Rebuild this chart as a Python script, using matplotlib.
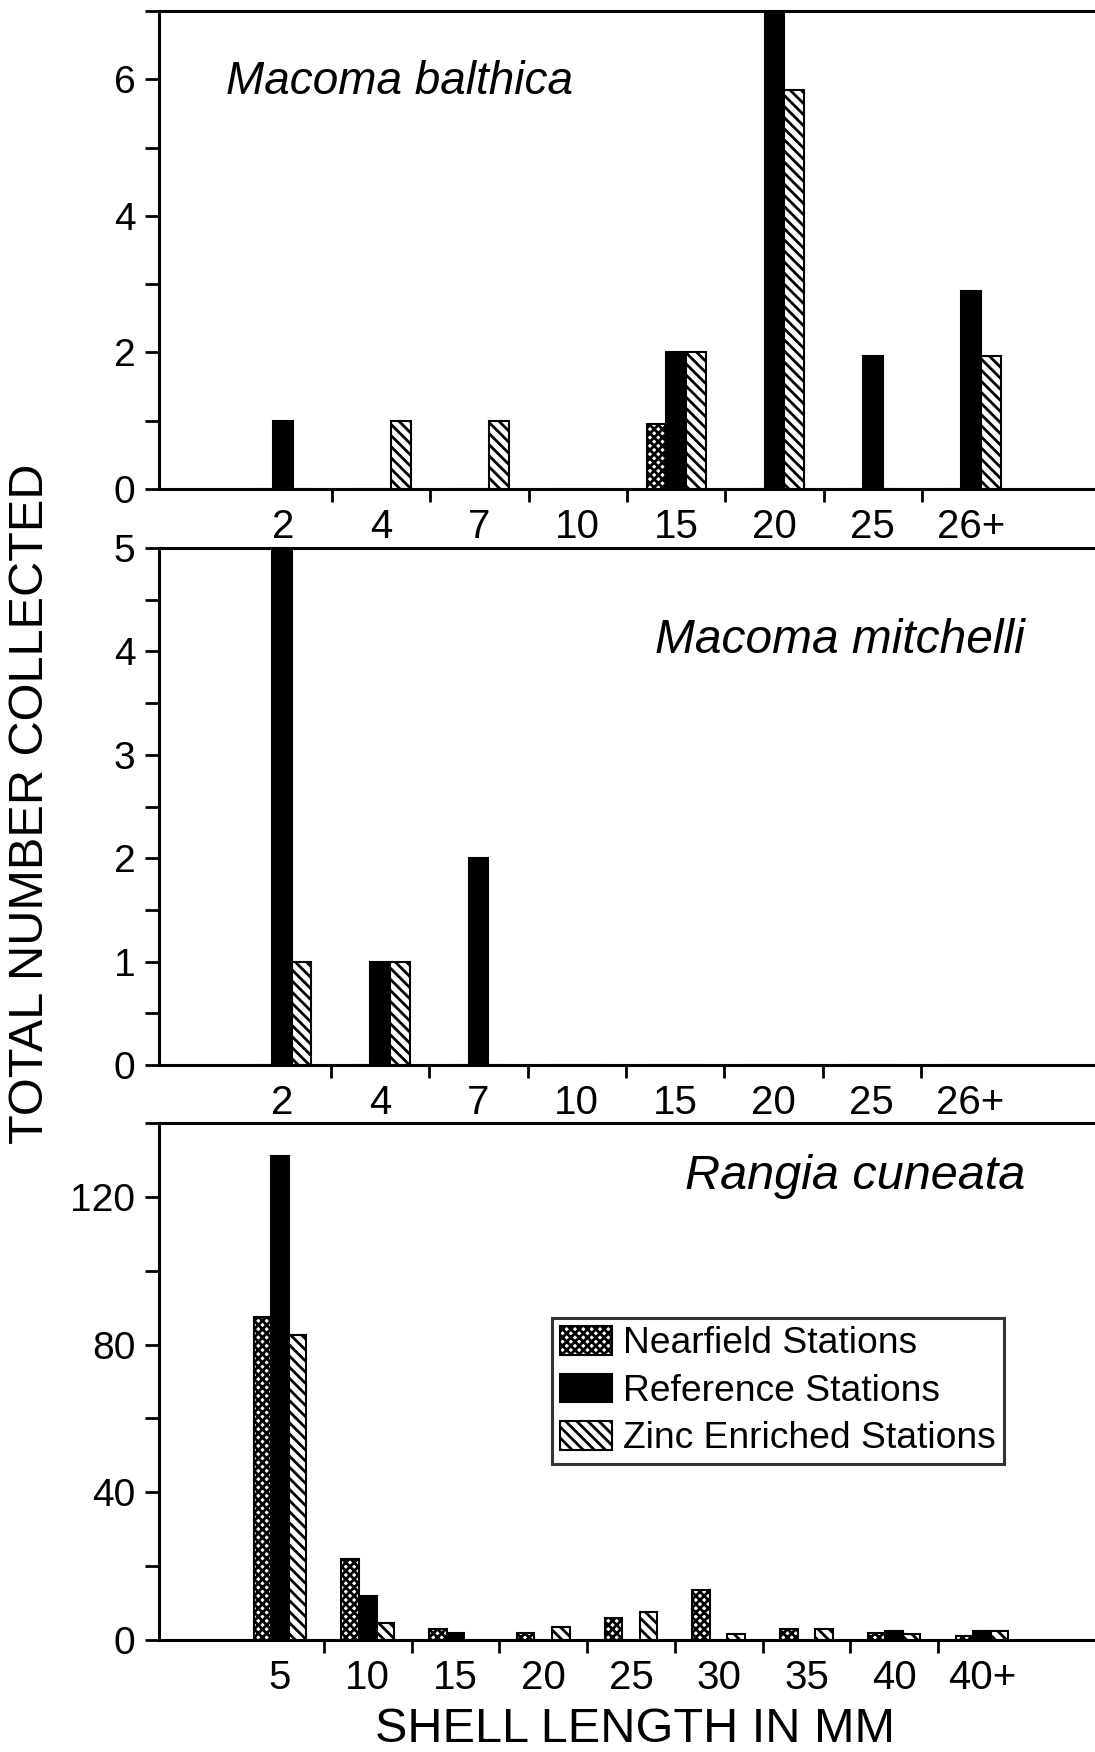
import matplotlib
matplotlib.use('Agg')
import matplotlib.pyplot as plt
from matplotlib.patches import Patch
import numpy as np

plt.rcParams['font.family'] = ['Liberation Sans', 'DejaVu Sans']
plt.rcParams['hatch.linewidth'] = 2.0
plt.rcParams['hatch.color'] = 'black'

# Macoma balthica
mb_labels = ['2', '4', '7', '10', '15', '20', '25', '26+']
mb_near = [0, 0, 0, 0, 0.95, 0, 0, 0]
mb_ref = [1, 0, 0, 0, 2, 7.3, 1.95, 2.9]
mb_zinc = [0, 1, 1, 0, 2, 5.85, 0, 1.95]

# Macoma mitchelli
mm_labels = ['2', '4', '7', '10', '15', '20', '25', '26+']
mm_near = [0, 0, 0, 0, 0, 0, 0, 0]
mm_ref = [5.3, 1, 2, 0, 0, 0, 0, 0]
mm_zinc = [1, 1, 0, 0, 0, 0, 0, 0]

# Rangia cuneata
rc_labels = ['5', '10', '15', '20', '25', '30', '35', '40', '40+']
rc_near = [87.5, 22, 3, 2, 6, 13.5, 3, 2, 1]
rc_ref = [131, 12, 2, 0, 0, 0, 0, 2.5, 2.5]
rc_zinc = [82.5, 4.5, 0, 3.5, 7.5, 1.5, 3, 1.5, 2.5]

series_names = ['Nearfield Stations', 'Reference Stations', 'Zinc Enriched Stations']
styles = [dict(facecolor='white', hatch='xxxx'),
          dict(facecolor='black', hatch=None),
          dict(facecolor='white', hatch='\\\\\\')]

W, H = 1095, 1752
fig = plt.figure(figsize=(W / 100, H / 100), dpi=100)


def make_axes(top_px, bottom_px):
    left = 159 / W
    return fig.add_axes([left, 1 - bottom_px / H, 1.0 - left, (bottom_px - top_px) / H])


def draw_panel(ax, labels, near, ref, zinc, xlim, ylim, major, minor, title, tsize, tx, ty, ha):
    x = np.arange(len(labels))
    bw = 0.2
    for off, vals, st in zip([-bw, 0, bw], [near, ref, zinc], styles):
        ax.bar(x + off, vals, width=bw, edgecolor='black', linewidth=1.5, **st)
    ax.set_xlim(*xlim)
    ax.set_ylim(*ylim)
    ax.set_xticks(x)
    ax.set_xticklabels(labels)
    ax.set_xticks(x[:-1] + 0.5, minor=True)
    ax.tick_params(axis='x', which='major', length=0, pad=14, labelsize=29)
    ax.tick_params(axis='x', which='minor', length=9, width=2, direction='out')
    ax.set_yticks(major)
    ax.set_yticks(minor, minor=True)
    ax.tick_params(axis='y', which='both', length=10, width=2, direction='out', labelsize=28, pad=7)
    for s in ['left', 'top', 'bottom']:
        ax.spines[s].set_linewidth(2.2)
    ax.spines['right'].set_visible(False)
    ax.text(tx, ty, title, transform=ax.transAxes, fontsize=tsize, style='italic',
            ha=ha, va='center')


ax1 = make_axes(11, 489)
draw_panel(ax1, mb_labels, mb_near, mb_ref, mb_zinc, (-1.26, 8.26), (0, 7),
           [0, 2, 4, 6], np.arange(0, 8, 1), 'Macoma balthica', 33, 0.072, 0.851, 'left')

ax2 = make_axes(548, 1065)
draw_panel(ax2, mm_labels, mm_near, mm_ref, mm_zinc, (-1.25, 8.27), (0, 5),
           [0, 1, 2, 3, 4, 5], np.arange(0, 5.5, 0.5), 'Macoma mitchelli', 34.5, 0.925, 0.821, 'right')

ax3 = make_axes(1123, 1640)
draw_panel(ax3, rc_labels, rc_near, rc_ref, rc_zinc, (-1.38, 9.29), (0, 140),
           [0, 40, 80, 120], np.arange(0, 141, 20), 'Rangia cuneata', 35, 0.925, 0.897, 'right')

handles = [Patch(edgecolor='black', linewidth=1.5, **st) for st in styles]
leg = fig.legend(handles, series_names, loc='upper left', bbox_to_anchor=(552 / W, 1 - 1318 / H),
                 fontsize=26.8, frameon=True, fancybox=False, edgecolor='black',
                 handlelength=1.4, handleheight=0.8, handletextpad=0.3,
                 labelspacing=0.33, borderpad=0.22, borderaxespad=0)
leg.get_frame().set_linewidth(2.2)

fig.text(31 / W, 1 - 804 / H, 'TOTAL NUMBER COLLECTED', rotation=90, fontsize=35,
         ha='center', va='center')
fig.text(635 / W, 1 - 1730 / H, 'SHELL LENGTH IN MM', fontsize=35, ha='center', va='center')

fig.savefig('out.png', dpi=100)
